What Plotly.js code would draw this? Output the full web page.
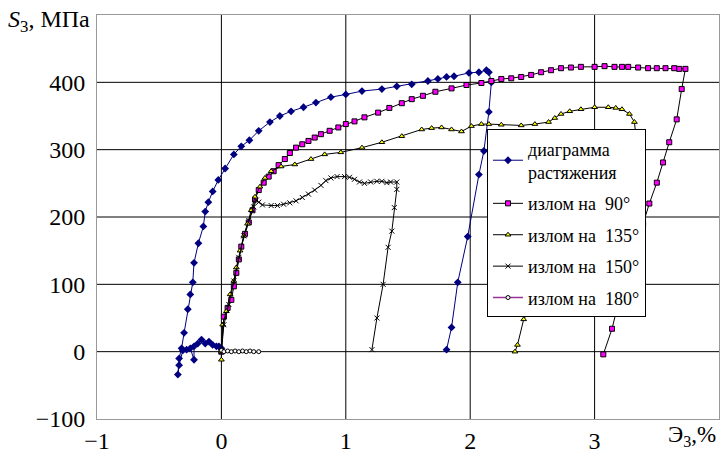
<!DOCTYPE html>
<html><head><meta charset="utf-8">
<script src="https://cdn.plot.ly/plotly-3.0.1.min.js"></script>
<style>html,body{margin:0;padding:0;background:#fff}#chart{width:721px;height:455px}</style>
</head><body><div id="chart"></div>
<script>
// Tension diagram (blue)
var tensionX = [0.0,-0.02,-0.04,-0.07,-0.10,-0.13,-0.16,-0.19,-0.22,-0.22,-0.25,-0.28,-0.31,-0.34,-0.35,-0.34,-0.32,-0.30,-0.27,-0.25,-0.23,-0.22,-0.185,-0.145,-0.13,-0.105,-0.07,-0.025,0.03,0.10,0.16,0.225,0.30,0.39,0.47,0.56,0.66,0.76,0.88,1.00,1.13,1.29,1.41,1.53,1.66,1.74,1.81,1.87,1.99,2.07,2.13,2.15,2.17,2.15,2.11,2.07,1.98,1.90,1.85,1.81];
var tensionY = [5,8,8,10,15,12,18,12,8,-12,5,3,2,-20,-34,-10,5,28,63,85,103,132,161,186,208,222,238,255,272,293,305,314,328,341,350,357,363,370,378,382,387,390,394,397,402,405,408,409,414,415,418,415,400,356,298,263,171,103,36,3];
// Bend 90 (magenta)
var b90X = [0.0,0.02,0.05,0.08,0.10,0.12,0.14,0.16,0.19,0.22,0.25,0.27,0.30,0.34,0.38,0.42,0.46,0.51,0.55,0.60,0.65,0.70,0.75,0.80,0.87,0.94,1.00,1.07,1.15,1.26,1.35,1.45,1.53,1.62,1.72,1.85,1.97,2.09,2.17,2.25,2.33,2.41,2.49,2.57,2.65,2.73,2.81,2.89,3.00,3.08,3.16,3.22,3.27,3.35,3.43,3.50,3.57,3.64,3.68,3.73,3.70,3.66,3.60,3.55,3.50,3.44,3.39,3.18,3.14,3.07];
var b90Y = [0,52,65,77,97,117,137,156,175,192,210,226,240,251,260,268,277,286,295,303,308,313,318,323,328,333,338,342,348,355,362,369,375,380,386,391,396,399,402,405,406,408,411,415,418,421,422,423,423,424,423,423,423,422,421,421,421,421,420,420,390,345,311,281,251,220,190,64,34,-4];
// Bend 135 (yellow)
var b135X = [0.0,0.0,0.01,0.04,0.07,0.10,0.12,0.15,0.18,0.21,0.24,0.27,0.31,0.35,0.40,0.48,0.59,0.72,0.83,0.96,1.13,1.29,1.45,1.61,1.69,1.77,1.85,1.93,2.01,2.09,2.15,2.25,2.41,2.52,2.63,2.68,2.73,2.80,2.89,3.00,3.11,3.17,3.22,3.28,3.32,3.33,2.43,2.38,2.36];
var b135Y = [-12,0,40,60,85,105,125,150,172,190,210,230,245,258,268,275,278,286,293,296,303,311,320,330,332,333,330,327,335,338,338,337,336,338,341,347,353,357,360,363,363,362,360,353,341,324,48,10,0];
// Bend 150 (black)
var b150X = [0.0,0.02,0.06,0.10,0.14,0.18,0.22,0.26,0.28,0.30,0.33,0.40,0.45,0.50,0.55,0.60,0.65,0.70,0.75,0.80,0.84,0.88,0.93,0.99,1.03,1.07,1.11,1.15,1.20,1.25,1.29,1.33,1.36,1.41,1.41,1.39,1.37,1.34,1.30,1.25,1.21];
var b150Y = [0,40,70,105,140,172,195,215,225,222,218,217,217,219,221,224,229,234,240,247,254,258,260,260,259,256,252,250,252,253,253,251,252,252,241,214,179,155,100,50,3];
// Bend 180 (purple)
var b180X = [0.0,0.02,0.05,0.08,0.11,0.14,0.17,0.20,0.23,0.26,0.30];
var b180Y = [2,0,1,0,1,0,1,0,1,0,0];

var names = ['диаграмма<br>растяжения','излом на  90°','излом на  135°','излом на  150°','излом на  180°'];
var xTicks = [-1,0,1,2,3];
var xTickText = ['−1','0','1','2','3'];
var yTicks = [-100,0,100,200,300,400];
var yTickText = ['−100','0','100','200','300','400'];
var gridX = [0,1,2,3];
var gridY = [0,100,200,300,400];

var traces = [
 {x:tensionX,y:tensionY,name:names[0],mode:'lines+markers',line:{color:'#000080',width:1},
  marker:{symbol:'diamond',size:6,color:'#000080'},legendgroup:'a'},
 {x:b90X,y:b90Y,name:names[1],mode:'lines+markers',line:{color:'#000000',width:1},
  marker:{symbol:'square',size:5,color:'#FF00FF',line:{color:'#000',width:1}},legendgroup:'b'},
 {x:b135X,y:b135Y,name:names[2],mode:'lines+markers',line:{color:'#000000',width:1},
  marker:{symbol:'triangle-up',size:5,color:'#FFFF00',line:{color:'#000',width:1}},legendgroup:'c'},
 {x:b150X,y:b150Y,name:names[3],mode:'lines+markers',line:{color:'#000000',width:1},
  marker:{symbol:'x-thin',size:5,color:'#000',line:{color:'#000',width:1}},legendgroup:'d'},
 {x:b180X,y:b180Y,name:names[4],mode:'lines+markers',line:{color:'#993399',width:1.5},
  marker:{symbol:'circle',size:4,color:'#FFFFFF',line:{color:'#000',width:1}},legendgroup:'e'}
];

var shapes = [];
gridX.forEach(function(v){shapes.push({type:'line',xref:'x',yref:'paper',x0:v,x1:v,y0:0,y1:1,line:{color:'#000',width:1},layer:'below'});});
gridY.forEach(function(v){shapes.push({type:'line',xref:'paper',yref:'y',x0:0,x1:1,y0:v,y1:v,line:{color:'#000',width:1},layer:'below'});});

var layout = {
 width:721,height:455,margin:{l:97,r:2,t:15,b:36},
 paper_bgcolor:'#fff',plot_bgcolor:'#fff',
 showlegend:true,
 legend:{x:0.627,y:0.717,xanchor:'left',yanchor:'top',bgcolor:'#fff',bordercolor:'#000',borderwidth:1,
  font:{family:'Liberation Serif',size:18,color:'#000'},traceorder:'grouped',tracegroupgap:5,itemwidth:30},
 xaxis:{range:[-1,4],tickvals:xTicks,ticktext:xTickText,showgrid:false,zeroline:false,
  showline:true,mirror:true,linecolor:'#999',linewidth:1,ticks:'',tickfont:{family:'Liberation Serif',size:24,color:'#000'}},
 yaxis:{range:[-100,500],tickvals:yTicks,ticktext:yTickText,showgrid:false,zeroline:false,
  showline:true,mirror:true,linecolor:'#999',linewidth:1,ticks:'',ticklabelstandoff:6,tickfont:{family:'Liberation Serif',size:24,color:'#000'}},
 shapes:shapes,
 annotations:[
  {text:'<i>S</i><sub>3</sub>, МПа',xref:'paper',yref:'paper',x:0,y:1,xanchor:'right',yanchor:'middle',xshift:-5,yshift:-6,
   showarrow:false,font:{family:'Liberation Serif',size:24,color:'#000'}},
  {text:'Э<sub>3</sub>,%',xref:'x',yref:'paper',x:3.78,y:0,xanchor:'center',yanchor:'top',yshift:-1,
   showarrow:false,font:{family:'Liberation Serif',size:23,color:'#000'}}
 ]
};
Plotly.newPlot('chart',traces,layout,{displayModeBar:false,staticPlot:true});
</script></body></html>
